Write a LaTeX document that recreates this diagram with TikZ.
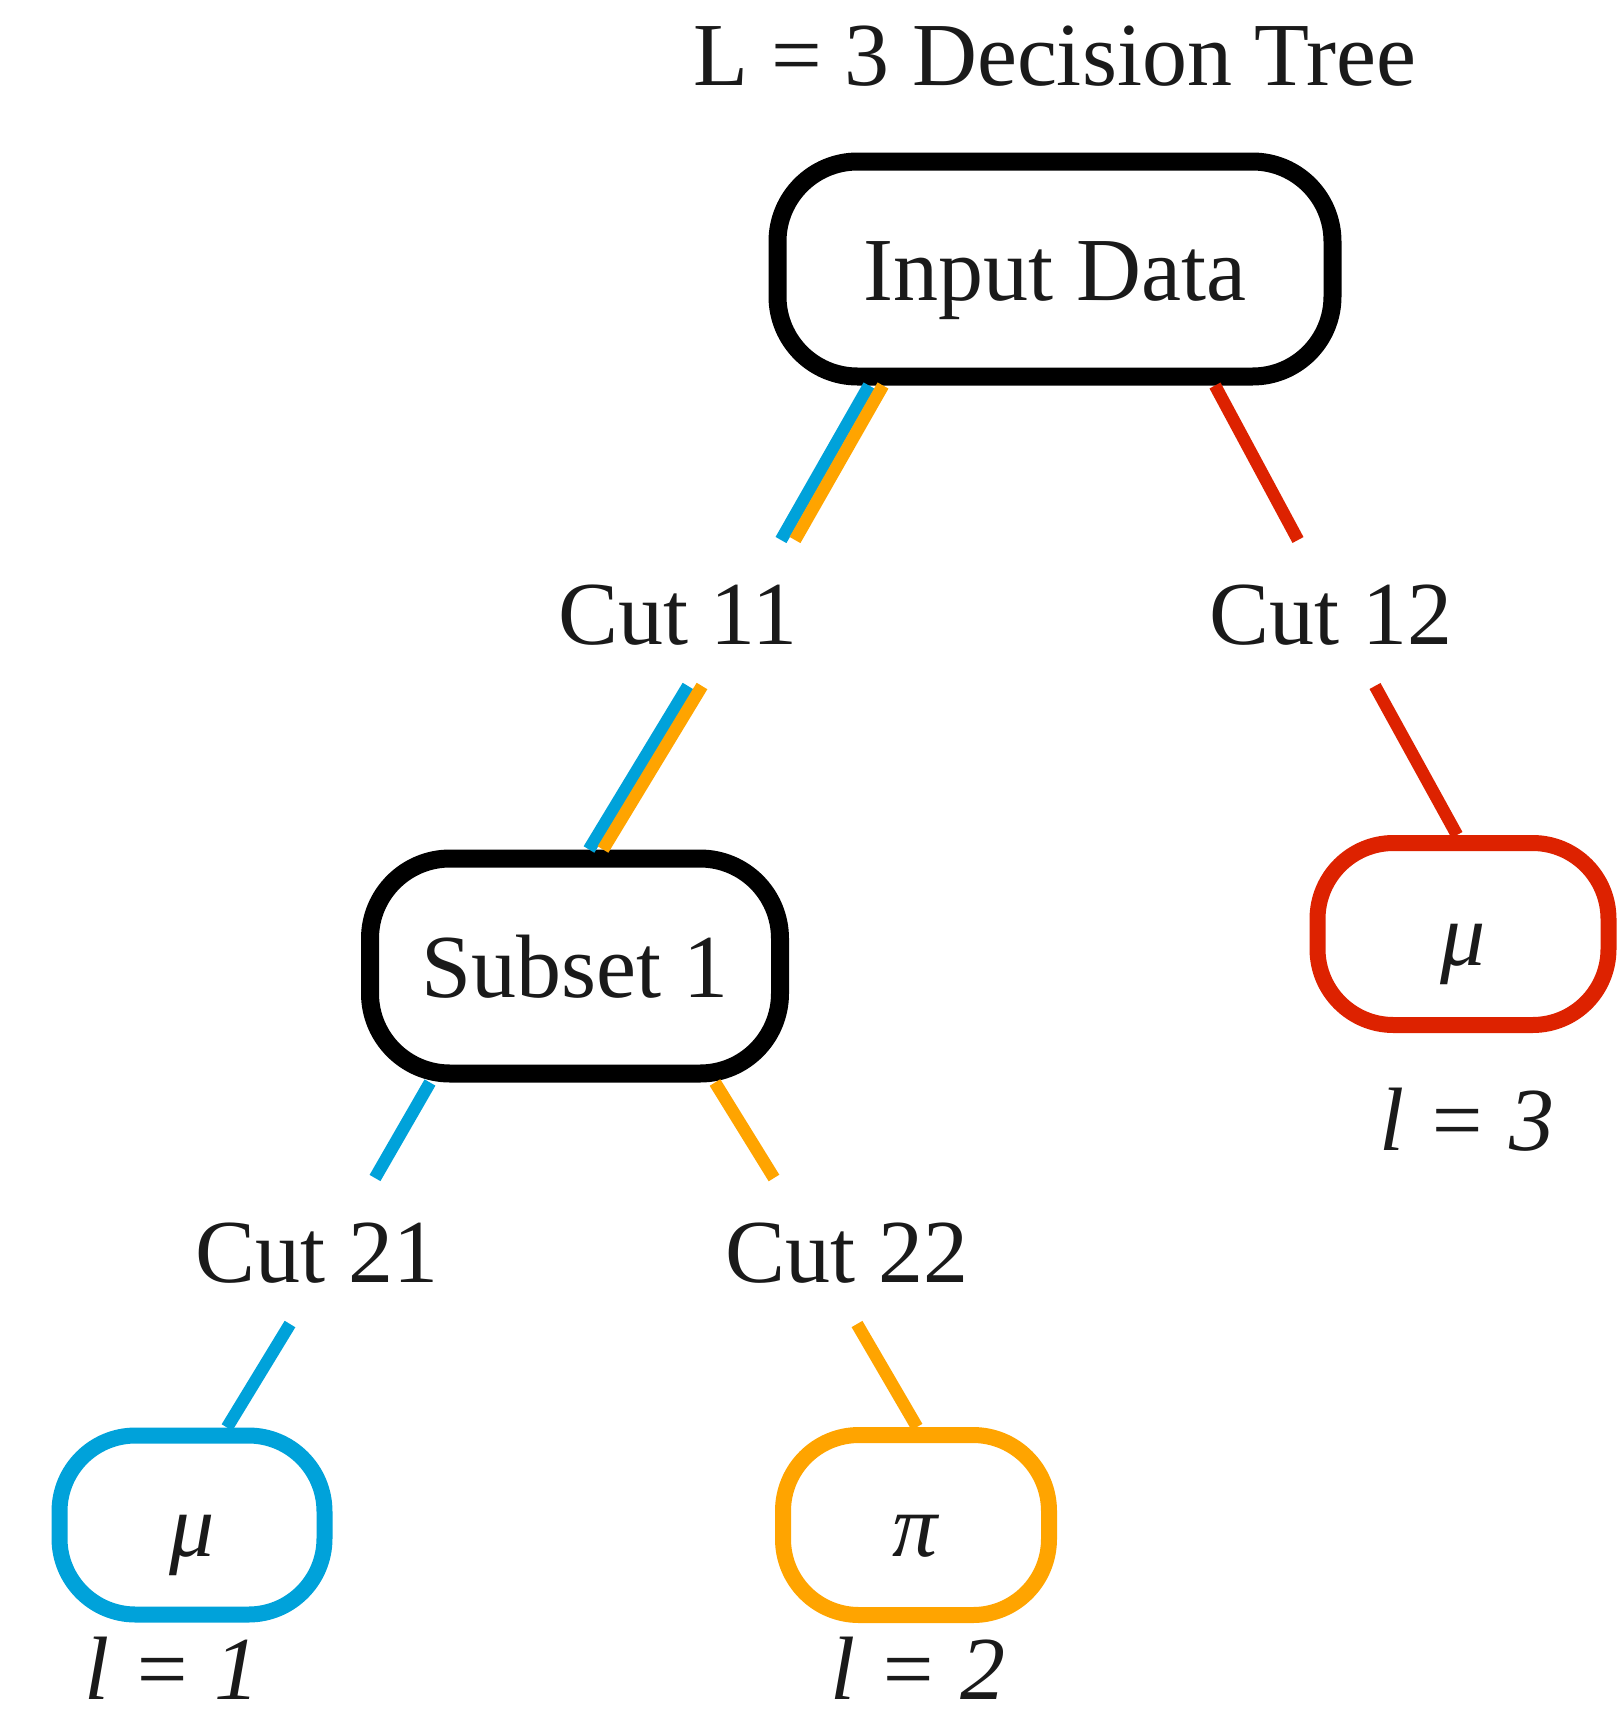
\documentclass[tikz,border=0pt]{standalone}
\usepackage{fontspec}
\setmainfont{Liberation Serif}
\usetikzlibrary{calc}
\definecolor{ink}{HTML}{1A1A1A}
\definecolor{cblue}{HTML}{00A2DA}
\definecolor{corange}{HTML}{FFA400}
\definecolor{cred}{HTML}{DD2200}
\begin{document}
\begin{tikzpicture}[x=1pt,y=-1pt,
  every node/.style={font=\fontsize{90}{100}\selectfont, text=ink, text height=62pt, text depth=0pt, inner sep=0pt},
  blackbox/.style={draw=black, line width=18pt, rounded corners=80pt, minimum height=215pt, fill=white},
  leaf/.style={draw=#1, line width=16pt, rounded corners=76pt, fill=white},
  cutlbl/.style={minimum height=146pt, outer sep=0pt},
  lbl/.style={anchor=base, font=\fontsize{90}{100}\selectfont\itshape},
  conn/.style={line width=12.5pt}
]
\useasboundingbox (0,0) rectangle (1624,1714);

% title
\node[anchor=base] (title) at (1055,85) {L = 3 Decision Tree};

% boxes
\node[blackbox, minimum width=555pt] (in) at (1055,269) {Input Data};
\node[blackbox, minimum width=410pt] (sub) at (575,966) {Subset 1};
\node[leaf=cred, minimum width=291pt, minimum height=182pt] (mu3) at (1463,934) {\textit{μ}};
\node[leaf=cblue, minimum width=265pt, minimum height=179pt] (mu1) at (192,1525) {\textit{μ}};
\node[leaf=corange, minimum width=266pt, minimum height=180pt] (pi2) at (916,1525) {\textit{π}};

% cut labels
\node[cutlbl] (c11) at (678,613) {Cut 11};
\node[cutlbl] (c12) at (1331,613) {Cut 12};
\node[cutlbl] (c21) at (317,1251) {Cut 21};
\node[cutlbl] (c22) at (847,1251) {Cut 22};

% level labels
\node[lbl] (l1) at (172,1699) {l = 1};
\node[lbl] (l2) at (918,1699) {l = 2};
\node[lbl] (l3) at (1467,1150) {l = 3};

% connectors
\draw[conn, cblue]   ($(in.south)+(-186,0)$) -- ($(c11.north)+(103,0)$);
\draw[conn, corange] ($(in.south)+(-172,0)$) -- ($(c11.north)+(117,0)$);
\draw[conn, cblue]   ($(c11.south)+(10,0)$) -- ($(sub.north)+(14,0)$);
\draw[conn, corange] ($(c11.south)+(24,0)$) -- ($(sub.north)+(28,0)$);
\draw[conn, cred] ($(in.south)+(160,0)$) -- ($(c12.north)+(-33,0)$);
\draw[conn, cred] ($(c12.south)+(44,0)$) -- ($(mu3.north)+(-6,0)$);
\draw[conn, cblue] ($(sub.south)+(-145,0)$) -- ($(c21.north)+(58,0)$);
\draw[conn, corange] ($(sub.south)+(140,0)$) -- ($(c22.north)+(-73,0)$);
\draw[conn, cblue] ($(c21.south)+(-27,0)$) -- ($(mu1.north)+(35,0)$);
\draw[conn, corange] ($(c22.south)+(10,0)$) -- ($(pi2.north)+(1,0)$);
\end{tikzpicture}
\end{document}
